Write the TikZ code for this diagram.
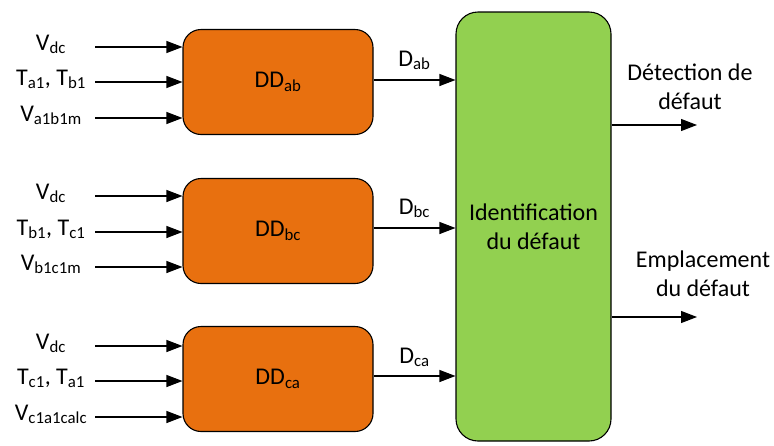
\documentclass[tikz,border=0pt]{standalone}
\usepackage{fontspec}
\setmainfont{Carlito}
\usepackage{tikz}
\usetikzlibrary{arrows.meta, positioning, calc}
\definecolor{ddorange}{HTML}{E8700F}
\definecolor{idgreen}{HTML}{92D050}

\tikzset{
    ddbox/.style={draw=black, fill=ddorange, line width=1.1pt, rounded corners=18pt, minimum width=190pt, minimum height=105pt, inner sep=0pt},
    idbox/.style={draw=black, fill=idgreen, line width=1.1pt, rounded corners=22pt, minimum width=155pt, minimum height=429pt, inner sep=0pt, align=center},
    flow/.style={line width=1.1pt, -{Triangle[length=16pt, width=12pt]}},
    lbl/.style={inner sep=0pt, anchor=base},
    txt/.style={font=\fontsize{24}{29}\selectfont}
}

\begin{document}
\begin{tikzpicture}[x=1pt, y=-1pt, txt]
    \useasboundingbox (0,0) rectangle (774,445);

    \node[ddbox] (ddab) at (278,82) {DD\textsubscript{ab}};
    \node[ddbox] (ddbc) at (278,231) {DD\textsubscript{bc}};
    \node[ddbox] (ddca) at (278,379) {DD\textsubscript{ca}};

    \node[idbox] (ident) at (533.5,226.5) {Identification\\du défaut};

    % inputs of DD_ab
    \coordinate (ab1) at (95,47);
    \coordinate (ab2) at (95,82);
    \coordinate (ab3) at (95,118);
    \node[lbl] (lab1) at (51,50) {V\textsubscript{dc}};
    \node[lbl] (lab2) at (51,85) {T\textsubscript{a1}, T\textsubscript{b1}};
    \node[lbl] (lab3) at (51,121) {V\textsubscript{a1b1m}};
    \foreach \c in {ab1,ab2,ab3}
        \draw[flow] (\c) -- (\c -| ddab.west);

    % inputs of DD_bc
    \coordinate (bc1) at (95,196);
    \coordinate (bc2) at (95,232);
    \coordinate (bc3) at (95,267);
    \node[lbl] (lbc1) at (51,199) {V\textsubscript{dc}};
    \node[lbl] (lbc2) at (51,235) {T\textsubscript{b1}, T\textsubscript{c1}};
    \node[lbl] (lbc3) at (51,270) {V\textsubscript{b1c1m}};
    \foreach \c in {bc1,bc2,bc3}
        \draw[flow] (\c) -- (\c -| ddbc.west);

    % inputs of DD_ca
    \coordinate (ca1) at (95,346);
    \coordinate (ca2) at (95,381);
    \coordinate (ca3) at (95,417);
    \node[lbl] (lca1) at (51,349) {V\textsubscript{dc}};
    \node[lbl] (lca2) at (51,384) {T\textsubscript{c1}, T\textsubscript{a1}};
    \node[lbl] (lca3) at (51,420) {V\textsubscript{c1a1calc}};
    \foreach \c in {ca1,ca2,ca3}
        \draw[flow] (\c) -- (\c -| ddca.west);

    % fault signals
    \draw[flow] ($(ddab.east)+(0,-2)$) coordinate (dab) -- (dab -| ident.west) node[lbl, pos=0.5, yshift=14pt] (ldab) {D\textsubscript{ab}};
    \draw[flow] ($(ddbc.east)+(0,-3)$) coordinate (dbc) -- (dbc -| ident.west) node[lbl, pos=0.5, yshift=14pt] (ldbc) {D\textsubscript{bc}};
    \draw[flow] ($(ddca.east)+(0,-3)$) coordinate (dca) -- (dca -| ident.west) node[lbl, pos=0.5, yshift=13pt] (ldca) {D\textsubscript{ca}};

    % outputs
    \coordinate (det) at (697,125);
    \coordinate (emp) at (697,317);
    \draw[flow] (det -| ident.east) -- (det);
    \draw[flow] (emp -| ident.east) -- (emp);
    \node[align=center, inner sep=0pt] (ldet) at (690,87) {Détection de\\défaut};
    \node[align=center, inner sep=0pt] (lemp) at (703,274) {Emplacement\\du défaut};
\end{tikzpicture}
\end{document}
